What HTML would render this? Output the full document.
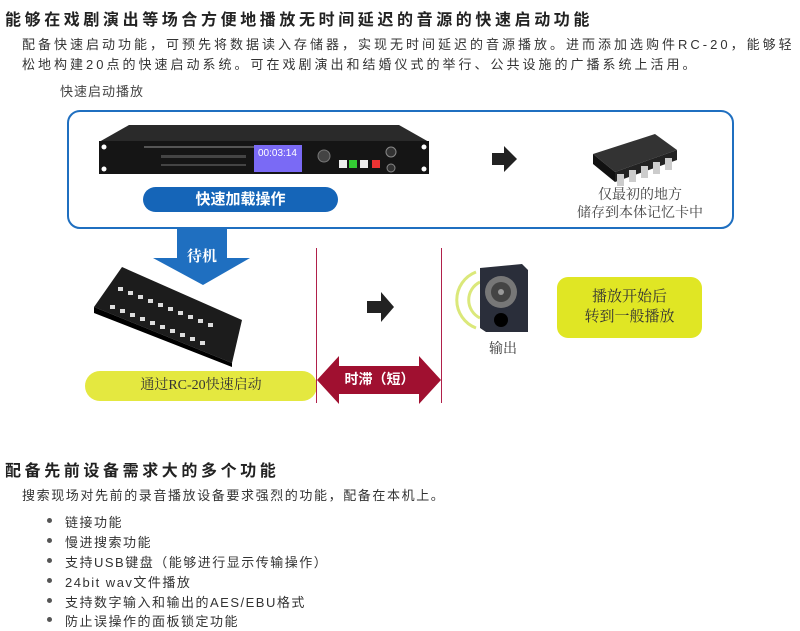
<!DOCTYPE html>
<html><head><meta charset="utf-8"><style>
body{margin:0;width:800px;height:631px;background:#fff;position:relative;overflow:hidden;font-family:"Liberation Sans","Noto Sans CJK SC",sans-serif;color:#333}
.a{position:absolute;white-space:nowrap}
.t{font-size:16px;font-weight:bold;color:#222;letter-spacing:3.6px}
.p{font-size:13px;letter-spacing:3.0px;color:#333}
.serif{font-family:"Liberation Serif","Noto Serif CJK SC",serif}
.b{font-size:13px;letter-spacing:1.5px;color:#333}
.dot{position:absolute;width:5px;height:5px;border-radius:50%;background:#555}
</style></head><body>
<div class="a t" style="left:5px;top:6px">能够在戏剧演出等场合方便地播放无时间延迟的音源的快速启动功能</div>
<div class="a p" style="left:22px;top:34px">配备快速启动功能，可预先将数据读入存储器，实现无时间延迟的音源播放。进而添加选购件RC-20，能够轻</div>
<div class="a p" style="left:22px;top:54px">松地构建20点的快速启动系统。可在戏剧演出和结婚仪式的举行、公共设施的广播系统上活用。</div>
<div class="a" style="left:60px;top:81px;font-size:13px;color:#444;letter-spacing:1px">快速启动播放</div>

<div class="a" style="left:67px;top:110px;width:663px;height:115px;border:2px solid #1f6fc0;border-radius:13px"></div>

<!-- rack device -->
<svg class="a" style="left:99px;top:124px" width="332" height="52">
<polygon points="30,1 300,1 330,18 0,18" fill="#2a2a2a"/>
<rect x="0" y="17" width="330" height="33" fill="#151515"/>
<rect x="45" y="22" width="125" height="2" fill="#555"/>
<rect x="62" y="31" width="85" height="3" fill="#444"/>
<rect x="62" y="40" width="85" height="2" fill="#444"/>
<rect x="155" y="21" width="48" height="27" fill="#7a6af5"/>
<rect x="240" y="36" width="8" height="8" fill="#eee"/><rect x="250" y="36" width="8" height="8" fill="#3c3"/><rect x="261" y="36" width="8" height="8" fill="#eee"/><rect x="273" y="36" width="8" height="8" fill="#e33"/>
<circle cx="225" cy="32" r="6" fill="#444" stroke="#777"/>
<circle cx="292" cy="28" r="5" fill="#333" stroke="#888"/><circle cx="292" cy="44" r="4" fill="#333" stroke="#888"/>
<circle cx="5" cy="23" r="2.5" fill="#fff"/><circle cx="5" cy="45" r="2.5" fill="#fff"/><circle cx="325" cy="23" r="2.5" fill="#fff"/><circle cx="325" cy="45" r="2.5" fill="#fff"/>
</svg>
<div class="a" style="left:258px;top:148px;font-size:10px;color:#fff">00:03:14</div>

<!-- black arrows -->
<svg class="a" style="left:490px;top:144px" width="30" height="30"><polygon points="2,9 14,9 14,2 27,15 14,28 14,21 2,21" fill="#222"/></svg>
<svg class="a" style="left:365px;top:290px" width="32" height="34"><polygon points="2,11 16,11 16,2 29,17 16,32 16,23 2,23" fill="#222"/></svg>

<!-- chip -->
<svg class="a" style="left:585px;top:126px" width="100" height="64">
<polygon points="8,28 70,8 92,24 30,46" fill="#333"/>
<polygon points="8,28 30,46 30,56 8,38" fill="#111"/>
<polygon points="30,46 92,24 92,34 30,56" fill="#222"/>
<g fill="#ccc"><rect x="32" y="48" width="7" height="12"/><rect x="44" y="44" width="7" height="12"/><rect x="56" y="40" width="7" height="12"/><rect x="68" y="36" width="7" height="12"/><rect x="80" y="32" width="7" height="12"/></g>
</svg>
<div class="a serif" style="left:560px;top:187px;width:160px;text-align:center;font-size:14px;line-height:18px;color:#444">仅最初的地方<br>储存到本体记忆卡中</div>

<!-- blue down arrow -->
<svg class="a" style="left:150px;top:229px" width="110" height="58"><polygon points="27,0 77,0 77,29 100,29 53,56 3,29 27,29" fill="#1f6fc0"/></svg>
<div class="a serif" style="left:187px;top:245px;font-size:15px;color:#fff;font-weight:bold">待机</div>
<!-- blue pill -->
<div class="a" style="left:143px;top:187px;width:195px;height:25px;background:#1565b8;border-radius:13px;color:#fff;font-size:15px;font-weight:bold;text-align:center;line-height:25px">快速加载操作</div>

<!-- RC-20 -->
<svg class="a" style="left:92px;top:265px" width="160" height="102">
<polygon points="30,2 150,55 140,98 2,42" fill="#1c1c1c"/>
<polygon points="2,42 140,98 140,102 2,48" fill="#000"/>
<g fill="#ddd">
<rect x="26" y="22" width="5" height="4"/><rect x="36" y="26" width="5" height="4"/><rect x="46" y="30" width="5" height="4"/><rect x="56" y="34" width="5" height="4"/><rect x="66" y="38" width="5" height="4"/><rect x="76" y="42" width="5" height="4"/><rect x="86" y="46" width="5" height="4"/><rect x="96" y="50" width="5" height="4"/><rect x="106" y="54" width="5" height="4"/><rect x="116" y="58" width="5" height="4"/>
<rect x="18" y="40" width="5" height="4"/><rect x="28" y="44" width="5" height="4"/><rect x="38" y="48" width="5" height="4"/><rect x="48" y="52" width="5" height="4"/><rect x="58" y="56" width="5" height="4"/><rect x="68" y="60" width="5" height="4"/><rect x="78" y="64" width="5" height="4"/><rect x="88" y="68" width="5" height="4"/><rect x="98" y="72" width="5" height="4"/><rect x="108" y="76" width="5" height="4"/>
</g></svg>
<div class="a serif" style="left:85px;top:371px;width:232px;height:30px;background:#e4e840;border-radius:15px;text-align:center;line-height:30px;font-size:14px;color:#333">通过RC-20快速启动</div>

<!-- red lines and arrow -->
<div class="a" style="left:316px;top:248px;width:1px;height:155px;background:#b0204a"></div>
<div class="a" style="left:441px;top:248px;width:1px;height:155px;background:#b0204a"></div>
<svg class="a" style="left:317px;top:356px" width="125" height="48"><polygon points="0,24 22,0 22,10 102,10 102,0 124,24 102,48 102,38 22,38 22,48" fill="#a01030"/></svg>
<div class="a" style="left:317px;top:369px;width:125px;text-align:center;color:#fff;font-weight:bold;font-size:14px">时滞（短）</div>

<!-- speaker -->
<svg class="a" style="left:450px;top:262px" width="85" height="75">
<path d="M26,10 A30,30 0 0 0 26,66" stroke="#dbe87a" stroke-width="3" fill="none"/>
<path d="M30,20 A20,20 0 0 0 30,56" stroke="#dbe87a" stroke-width="3" fill="none"/>
<polygon points="30,6 72,2 78,8 78,70 36,70 30,66" fill="#2a2e3a"/>
<circle cx="51" cy="30" r="16" fill="#777"/><circle cx="51" cy="30" r="10" fill="#444"/><circle cx="51" cy="30" r="3" fill="#999"/>
<circle cx="51" cy="58" r="7" fill="#000"/>
</svg>
<div class="a serif" style="left:489px;top:338px;font-size:14px;color:#333">输出</div>
<div class="a serif" style="left:557px;top:277px;width:145px;height:61px;background:#e0e624;border-radius:11px;text-align:center;font-size:15px;line-height:20px;color:#333;padding-top:10px;box-sizing:border-box">播放开始后<br>转到一般播放</div>

<div class="a t" style="left:5px;top:457px">配备先前设备需求大的多个功能</div>
<div class="a p" style="left:22px;top:485px;letter-spacing:1.6px">搜索现场对先前的录音播放设备要求强烈的功能，配备在本机上。</div>
<div class="dot" style="left:47px;top:518px"></div><div class="a b" style="left:65px;top:512px">链接功能</div>
<div class="dot" style="left:47px;top:538px"></div><div class="a b" style="left:65px;top:532px">慢进搜索功能</div>
<div class="dot" style="left:47px;top:558px"></div><div class="a b" style="left:65px;top:552px">支持USB键盘（能够进行显示传输操作）</div>
<div class="dot" style="left:47px;top:578px"></div><div class="a b" style="left:65px;top:572px">24bit wav文件播放</div>
<div class="dot" style="left:47px;top:598px"></div><div class="a b" style="left:65px;top:592px">支持数字输入和输出的AES/EBU格式</div>
<div class="dot" style="left:47px;top:617px"></div><div class="a b" style="left:65px;top:611px">防止误操作的面板锁定功能</div>
</body></html>
